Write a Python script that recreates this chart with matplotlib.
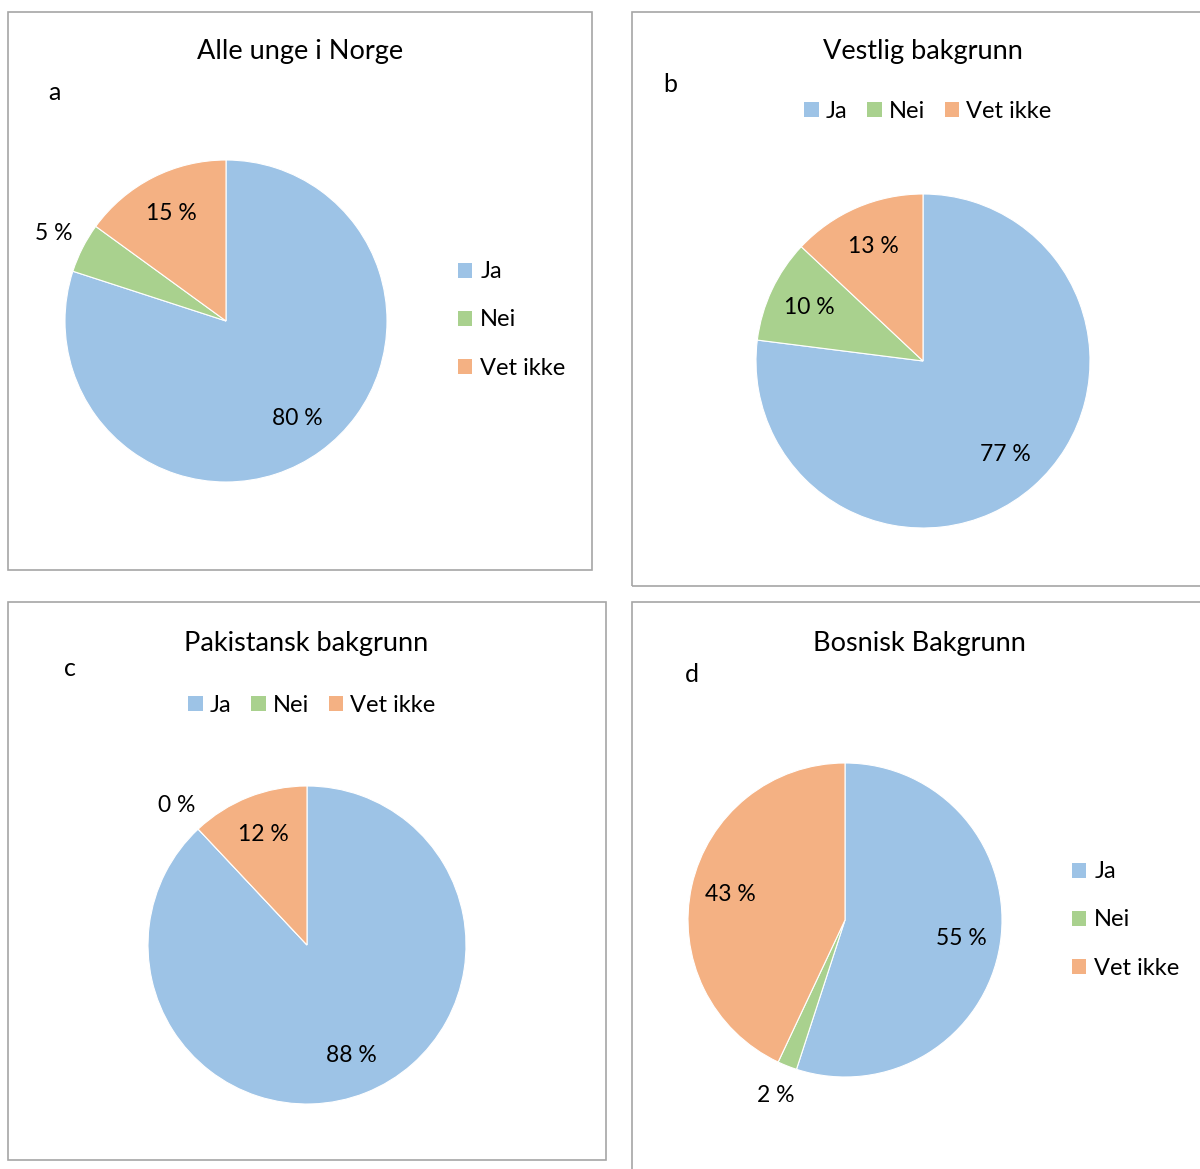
import numpy as np
import matplotlib.pyplot as plt
from matplotlib.patches import Rectangle, Patch

plt.rcParams['font.family'] = ['Lato', 'DejaVu Sans']

W, H = 1200, 1169

categories = ['Ja', 'Nei', 'Vet ikke']
colors = ['#9DC3E6', '#A9D18E', '#F4B183']

titles = ['Alle unge i Norge', 'Vestlig bakgrunn', 'Pakistansk bakgrunn', 'Bosnisk Bakgrunn']
letters = ['a', 'b', 'c', 'd']
alle = [80, 5, 15]
vestlig = [77, 10, 13]
pakistansk = [88, 0, 12]
bosnisk = [55, 2, 43]


def fx(x):
    return x / W


def fy(y):
    return 1 - y / H


fig = plt.figure(figsize=(W / 100, H / 100), dpi=100)

# panel layout in pixels: box, pie centre/radius, title pos, letter pos, legend
panels = [
    dict(data=alle, box=(8, 12, 592, 570), pie=(226, 321, 161), title=(300, 51),
         letter=(54, 93), legend='v', leg=(452, 320)),
    dict(data=vestlig, box=(632, 12, 1210, 586), pie=(923, 361, 167), title=(923, 51),
         letter=(670, 84), legend='h', leg=(928, 111)),
    dict(data=pakistansk, box=(8, 602, 606, 1160), pie=(307, 945, 159), title=(306, 643),
         letter=(70, 668), legend='h', leg=(312, 705)),
    dict(data=bosnisk, box=(632, 602, 1210, 1180), pie=(845, 920, 157), title=(919, 643),
         letter=(692, 675), legend='v', leg=(1066, 920)),
]

for i, p in enumerate(panels):
    x0, y0, x1, y1 = p['box']
    fig.patches.append(Rectangle((fx(x0), fy(y1)), fx(x1 - x0), (y1 - y0) / H,
                                 transform=fig.transFigure, fill=False,
                                 edgecolor='#A6A6A6', linewidth=1.2))

    cx, cy, r = p['pie']
    ax = fig.add_axes([fx(cx - r), fy(cy + r), 2 * r / W, 2 * r / H])
    wedges, _ = ax.pie(p['data'], colors=colors, startangle=90, counterclock=False,
                       radius=1, wedgeprops=dict(edgecolor='white', linewidth=0.8))
    ax.set_xlim(-1, 1)
    ax.set_ylim(-1, 1)
    ax.set_aspect('equal')
    ax.axis('off')

    # value labels: inside the slice, or just outside for thin slices
    for w, v in zip(wedges, p['data']):
        ang = np.deg2rad((w.theta1 + w.theta2) / 2)
        d = 1.2 if v < 6 else 0.75
        ax.text(d * np.cos(ang), d * np.sin(ang), f'{v} %', ha='center', va='center',
                fontsize=16.5, color='black', clip_on=False)

    fig.text(fx(p['title'][0]), fy(p['title'][1]), titles[i], ha='center', va='center',
             fontsize=19.5, color='black')
    fig.text(fx(p['letter'][0]), fy(p['letter'][1]), letters[i], ha='center', va='center',
             fontsize=18, color='black')

    handles = [Patch(facecolor=c, edgecolor='none') for c in colors]
    lx, ly = p['leg']
    if p['legend'] == 'v':
        fig.legend(handles, categories, loc='center left',
                   bbox_to_anchor=(fx(lx - 6), fy(ly)), ncol=1, frameon=False,
                   fontsize=17, handlelength=0.6, handleheight=0.6,
                   handletextpad=0.35, labelspacing=1.15, borderpad=0)
    else:
        fig.legend(handles, categories, loc='center',
                   bbox_to_anchor=(fx(lx), fy(ly)), ncol=3, frameon=False,
                   fontsize=17, handlelength=0.6, handleheight=0.6,
                   handletextpad=0.3, columnspacing=0.85, borderpad=0)

fig.savefig('out.png', dpi=100)
